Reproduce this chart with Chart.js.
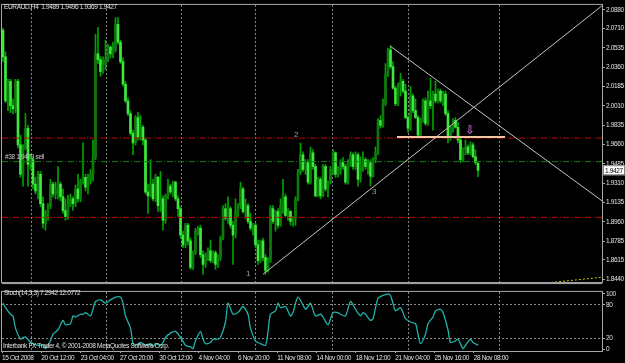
<!doctype html>
<html>
<head>
<meta charset="utf-8">
<title>EURAUD,H4</title>
<script src="https://cdn.jsdelivr.net/npm/chart.js@4.4.0/dist/chart.umd.min.js"></script>
<style>
  body { margin:0; background:#000; width:625px; height:363px; overflow:hidden; position:relative; }
  canvas { position:absolute; left:0; }
  #main { top:0; width:625px; height:287px; }
  #stoch { top:287px; width:625px; height:76px; }
  .txt { position:absolute; color:#e0e0e0; font:6.5px 'Liberation Sans Narrow','Liberation Sans',Arial,sans-serif; letter-spacing:-0.35px; white-space:pre; z-index:2; line-height:1; }
</style>
</head>
<body>
<canvas id="main" width="625" height="287"></canvas>
<canvas id="stoch" width="625" height="76"></canvas>
<div class="txt" style="left:4px;top:4px">EURAUD,H4  1.9489 1.9496 1.9369 1.9427</div>
<div class="txt" style="left:5px;top:154px;color:#c8c8c8">#38 1.9479 sell</div>
<div class="txt" style="left:4px;top:290px">Stoch(14,3,3) 7.2942 12.0772</div>
<div class="txt" style="left:3px;top:343px">Interbank FX Trader 4, © 2001-2008 MetaQuotes Software Corp.</div>
<script>
// H4 bars, 15 Oct - 28 Nov 2008
var opens = [
  2.0694, 2.0454, 2.0055, 2.0232, 2.0011, 1.9984, 2.0232, 1.9656, 1.9390, 1.9629,
  1.9807, 1.9479, 1.9523, 1.9301, 1.9239, 1.9390, 1.9124, 1.8946, 1.9035, 1.9106,
  1.9301, 1.9212, 1.9257, 1.9301, 1.9186, 1.9062, 1.9008, 1.9124, 1.9168, 1.9124,
  1.9257, 1.9168, 1.9319, 1.9363, 1.9274, 1.9345, 1.9390, 1.9541, 2.0481, 2.0428,
  2.0321, 2.0383, 2.0428, 2.0543, 2.0481, 2.0516, 2.0747, 2.0587, 2.0410, 2.0206,
  2.0055, 1.9940, 1.9762, 1.9674, 1.9904, 1.9727, 1.9816, 1.9700, 1.9230, 1.9195,
  1.9301, 1.9168, 1.9363, 1.9106, 1.9168, 1.8973, 1.9195, 1.9283, 1.9230, 1.9319,
  1.9168, 1.9079, 1.8840, 1.8751, 1.8929, 1.8787, 1.8547, 1.8680, 1.8875, 1.8902,
  1.8662, 1.8574, 1.8662, 1.8698, 1.8609, 1.8680, 1.8574, 1.8636, 1.8813, 1.9079,
  1.8991, 1.9079, 1.8929, 1.8840, 1.9053, 1.9106, 1.9257, 1.9053, 1.9106, 1.8964,
  1.8902, 1.8929, 1.8751, 1.8609, 1.8787, 1.8636, 1.8520, 1.8609, 1.9079, 1.8964,
  1.9053, 1.8929, 1.9106, 1.9186, 1.9017, 1.9053, 1.8964, 1.8991, 1.9168, 1.9407,
  1.9567, 1.9434, 1.9496, 1.9319, 1.9585, 1.9461, 1.9195, 1.9345, 1.9195, 1.9461,
  1.9257, 1.9319, 1.9434, 1.9585, 1.9390, 1.9434, 1.9496, 1.9461, 1.9319, 1.9496,
  1.9567, 1.9461, 1.9567, 1.9345, 1.9479, 1.9523, 1.9461, 1.9496, 1.9372, 1.9523,
  1.9585, 1.9878, 1.9833, 2.0028, 2.0294, 2.0516, 2.0365, 2.0170, 2.0028, 2.0188,
  2.0232, 2.0144, 1.9904, 1.9807, 2.0099, 1.9966, 1.9904, 1.9745, 1.9878, 2.0055,
  1.9851, 2.0055, 2.0011, 2.0117, 2.0055, 2.0144, 2.0055, 2.0117, 1.9940, 1.9727,
  1.9816, 1.9878, 1.9816, 1.9700, 1.9523, 1.9612, 1.9638, 1.9585, 1.9656, 1.9549,
  1.9489
];
var highs = [
  2.0711, 2.0499, 2.0250, 2.0250, 2.0073, 2.0250, 2.0250, 1.9745, 1.9656, 1.9940,
  1.9833, 1.9567, 1.9541, 1.9363, 1.9416, 1.9416, 1.9186, 1.9062, 1.9124, 1.9345,
  1.9319, 1.9319, 1.9461, 1.9319, 1.9257, 1.9168, 1.9203, 1.9212, 1.9186, 1.9292,
  1.9390, 1.9345, 1.9674, 1.9390, 1.9390, 1.9434, 1.9700, 2.0658, 2.0720, 2.0454,
  2.0454, 2.0605, 2.0569, 2.0552, 2.0587, 2.0809, 2.0809, 2.0605, 2.0445, 2.0232,
  2.0082, 1.9966, 1.9789, 1.9922, 1.9949, 1.9922, 1.9833, 1.9718, 1.9301, 1.9523,
  1.9345, 1.9390, 1.9372, 1.9416, 1.9195, 1.9212, 1.9345, 1.9301, 1.9328, 1.9328,
  1.9195, 1.9097, 1.8875, 1.8946, 1.8946, 1.8813, 1.8698, 1.8902, 1.8920, 1.8929,
  1.8698, 1.8680, 1.8725, 1.8795, 1.8698, 1.8698, 1.8662, 1.8831, 1.9106, 1.9124,
  1.9186, 1.9097, 1.8964, 1.9168, 1.9124, 1.9319, 1.9274, 1.9168, 1.9124, 1.9035,
  1.8946, 1.8946, 1.8795, 1.8795, 1.8813, 1.8662, 1.8636, 1.9106, 1.9106, 1.9062,
  1.9079, 1.9168, 1.9345, 1.9212, 1.9079, 1.9062, 1.9008, 1.9186, 1.9434, 1.9674,
  1.9594, 1.9523, 1.9523, 1.9638, 1.9612, 1.9479, 1.9363, 1.9363, 1.9479, 1.9479,
  1.9328, 1.9461, 1.9612, 1.9594, 1.9461, 1.9523, 1.9541, 1.9479, 1.9523, 1.9594,
  1.9585, 1.9594, 1.9585, 1.9549, 1.9594, 1.9541, 1.9523, 1.9523, 1.9541, 1.9638,
  1.9895, 1.9922, 2.0073, 2.0392, 2.0534, 2.0552, 2.0410, 2.0188, 2.0215, 2.0303,
  2.0250, 2.0206, 1.9922, 2.0188, 2.0117, 2.0073, 1.9922, 1.9895, 2.0073, 2.0082,
  2.0144, 2.0259, 2.0144, 2.0232, 2.0161, 2.0161, 2.0144, 2.0144, 1.9966, 1.9833,
  1.9895, 1.9904, 1.9860, 1.9718, 1.9629, 1.9700, 1.9656, 1.9683, 1.9674, 1.9612,
  1.9496
];
var lows = [
  2.0410, 2.0037, 1.9966, 1.9949, 1.9940, 1.9949, 1.9629, 1.9363, 1.9283, 1.9612,
  1.9283, 1.9434, 1.9257, 1.9212, 1.9168, 1.9097, 1.8902, 1.8884, 1.8973, 1.9079,
  1.9186, 1.9168, 1.9168, 1.9150, 1.9035, 1.8973, 1.8982, 1.9097, 1.9062, 1.9097,
  1.9141, 1.9141, 1.9301, 1.9239, 1.9212, 1.9301, 1.9328, 1.9523, 2.0392, 2.0277,
  2.0303, 2.0339, 2.0410, 2.0445, 2.0445, 2.0499, 2.0569, 2.0392, 2.0188, 2.0037,
  1.9922, 1.9745, 1.9567, 1.9656, 1.9700, 1.9700, 1.9656, 1.9212, 1.9035, 1.9186,
  1.9150, 1.9141, 1.9053, 1.9053, 1.8884, 1.8946, 1.9168, 1.9212, 1.9186, 1.9150,
  1.9008, 1.8813, 1.8725, 1.8725, 1.8751, 1.8529, 1.8529, 1.8662, 1.8840, 1.8636,
  1.8485, 1.8547, 1.8609, 1.8591, 1.8591, 1.8529, 1.8547, 1.8609, 1.8795, 1.8973,
  1.8946, 1.8902, 1.8574, 1.8813, 1.9008, 1.9079, 1.9035, 1.8991, 1.8946, 1.8884,
  1.8840, 1.8725, 1.8574, 1.8591, 1.8609, 1.8485, 1.8503, 1.8591, 1.8946, 1.8875,
  1.8902, 1.8920, 1.9035, 1.9008, 1.8973, 1.8929, 1.8920, 1.8929, 1.9150, 1.9390,
  1.9416, 1.9390, 1.9301, 1.9301, 1.9434, 1.9186, 1.9186, 1.9168, 1.9186, 1.9239,
  1.9186, 1.9301, 1.9390, 1.9363, 1.9363, 1.9390, 1.9434, 1.9301, 1.9301, 1.9461,
  1.9434, 1.9434, 1.9283, 1.9319, 1.9416, 1.9434, 1.9390, 1.9283, 1.9363, 1.9496,
  1.9567, 1.9807, 1.9816, 2.0011, 2.0277, 2.0348, 2.0161, 2.0011, 2.0011, 2.0099,
  2.0126, 1.9895, 1.9771, 1.9789, 1.9949, 1.9895, 1.9718, 1.9727, 1.9860, 1.9833,
  1.9833, 1.9984, 1.9789, 2.0037, 2.0037, 2.0037, 2.0011, 1.9922, 1.9674, 1.9700,
  1.9771, 1.9807, 1.9674, 1.9496, 1.9505, 1.9567, 1.9567, 1.9567, 1.9541, 1.9479,
  1.9369
];
var closes = [
  2.0454, 2.0055, 2.0232, 2.0011, 1.9984, 2.0232, 1.9656, 1.9390, 1.9629, 1.9807,
  1.9479, 1.9523, 1.9301, 1.9239, 1.9390, 1.9124, 1.8946, 1.9035, 1.9106, 1.9301,
  1.9212, 1.9257, 1.9301, 1.9186, 1.9062, 1.9008, 1.9124, 1.9168, 1.9124, 1.9257,
  1.9168, 1.9319, 1.9363, 1.9274, 1.9345, 1.9390, 1.9541, 2.0481, 2.0428, 2.0321,
  2.0383, 2.0428, 2.0543, 2.0481, 2.0516, 2.0747, 2.0587, 2.0410, 2.0206, 2.0055,
  1.9940, 1.9762, 1.9674, 1.9904, 1.9727, 1.9816, 1.9700, 1.9230, 1.9195, 1.9301,
  1.9168, 1.9363, 1.9106, 1.9168, 1.8973, 1.9195, 1.9283, 1.9230, 1.9319, 1.9168,
  1.9079, 1.8840, 1.8751, 1.8929, 1.8787, 1.8547, 1.8680, 1.8875, 1.8902, 1.8662,
  1.8574, 1.8662, 1.8698, 1.8609, 1.8680, 1.8574, 1.8636, 1.8813, 1.9079, 1.8991,
  1.9079, 1.8929, 1.8840, 1.9053, 1.9106, 1.9257, 1.9053, 1.9106, 1.8964, 1.8902,
  1.8929, 1.8751, 1.8609, 1.8787, 1.8636, 1.8520, 1.8609, 1.9079, 1.8964, 1.9053,
  1.8929, 1.9106, 1.9186, 1.9017, 1.9053, 1.8964, 1.8991, 1.9168, 1.9407, 1.9567,
  1.9434, 1.9496, 1.9319, 1.9585, 1.9461, 1.9195, 1.9345, 1.9195, 1.9461, 1.9257,
  1.9319, 1.9434, 1.9585, 1.9390, 1.9434, 1.9496, 1.9461, 1.9319, 1.9496, 1.9567,
  1.9461, 1.9567, 1.9345, 1.9479, 1.9523, 1.9461, 1.9496, 1.9372, 1.9523, 1.9585,
  1.9878, 1.9833, 2.0028, 2.0294, 2.0516, 2.0365, 2.0170, 2.0028, 2.0188, 2.0232,
  2.0144, 1.9904, 1.9807, 2.0099, 1.9966, 1.9904, 1.9745, 1.9878, 2.0055, 1.9851,
  2.0055, 2.0011, 2.0117, 2.0055, 2.0144, 2.0055, 2.0117, 1.9940, 1.9727, 1.9816,
  1.9878, 1.9816, 1.9700, 1.9523, 1.9612, 1.9638, 1.9585, 1.9656, 1.9549, 1.9496,
  1.9427
];

// stochastic %K, sampled by bar number
var stochBar = [0, 1, 3, 4, 5, 7, 8, 9, 11, 12, 14, 16, 17, 19, 20, 22, 24, 25, 27, 28,
  29, 31, 32, 33, 35, 36, 37, 39, 40, 41, 43, 45, 47, 48, 49, 51, 52, 53, 55, 57,
  59, 60, 61, 63, 64, 65, 67, 69, 71, 73, 75, 76, 77, 79, 80, 81, 83, 84, 86, 87,
  89, 90, 92, 94, 96, 98, 99, 101, 103, 105, 106, 107, 109, 110, 111, 113, 115, 116, 118, 121,
  122, 123, 125, 127, 128, 130, 132, 134, 135, 137, 139, 141, 143, 144, 145, 147, 148, 150, 152, 154,
  155, 156, 157, 159, 160, 161, 163, 165, 166, 167, 169, 170, 172, 173, 175, 176, 178, 179, 181, 182,
  184, 185, 187, 188, 190];
var stochK = [83, 75, 63, 60, 38, 18, 21, 22, 12, 10, 7, 7, 1, 15, 27, 35, 52, 44, 46, 60,
  58, 63, 63, 66, 60, 72, 86, 89, 86, 83, 89, 94, 94, 83, 60, 38, 10, 7, 12, 7,
  10, 4, 10, 7, 12, 21, 29, 32, 21, 7, 4, 1, 15, 32, 18, 10, 12, 18, 18, 21,
  49, 83, 63, 66, 77, 63, 38, 15, 10, 7, 32, 63, 69, 83, 75, 77, 60, 66, 94, 72,
  77, 83, 60, 63, 58, 44, 66, 66, 63, 60, 86, 72, 60, 66, 63, 52, 55, 92, 97, 100,
  97, 83, 69, 75, 66, 55, 49, 46, 27, 10, 27, 46, 58, 69, 72, 66, 35, 12, 15, 18,
  1, 7, 18, 12, 7.3];

var priceTicks = [2.0880, 2.0710, 2.0535, 2.0360, 2.0185, 2.0010, 1.9835, 1.9660,
  1.9485, 1.9310, 1.9135, 1.8960, 1.8785, 1.8615, 1.8440];
var stochTicks = [0, 20, 80, 100];
var gridBars = [11.2, 41.2, 71.2, 100.8, 131.6, 162, 198.4];
var timeLabels = ['15 Oct 2008', '20 Oct 12:00', '23 Oct 04:00', '27 Oct 20:00', '30 Oct 12:00',
  '4 Nov 04:00', '6 Nov 20:00', '11 Nov 08:00', '14 Nov 00:00', '18 Nov 12:00',
  '21 Nov 04:00', '25 Nov 16:00', '28 Nov 08:00'];
var timeBars = [-0.4, 15.3, 31.1, 46.8, 62.5, 78.2, 94.0, 109.7, 125.4, 141.1, 156.9, 172.6, 188.3];

// order levels: stop/target (red) and entry (green)
var redLevels = [1.9718, 1.9000];
var greenLevel = 1.9505;
// drawn objects [bar0, price0, bar1, price1]
var trendUp = [104, 1.8485, 239.6, 2.0916];
var trendDown = [154.8, 2.0552, 239.6, 1.9150];
var neckline = [157.6, 1.9727, 200.8, 1.9727];
var yellowLine = [220.8, 1.8414, 239.6, 1.8458];
var waveLabels = ['1', '2', '3'];
var waveBars = [98, 117.2, 148.4];
var wavePrices = [1.8485, 1.9745, 1.9230];
var arrowBar = 186.8, arrowPrice = 1.9780;

var FONT = "'Liberation Sans Narrow', 'Liberation Sans', Arial, sans-serif";
Chart.defaults.font.family = FONT;
Chart.defaults.font.size = 6.5;
Chart.defaults.color = '#e0e0e0';

var xMin = -0.4, xMax = 239.6;

function seg(p, color, dash, width, order) {
  return {
    type: 'line',
    data: [{x: p[0], y: p[1]}, {x: p[2], y: p[3]}],
    borderColor: color, borderDash: dash || [], borderWidth: width || 1,
    pointRadius: 0, order: order
  };
}

var wicks = [], bodies = [];
for (var i = 0; i < opens.length; i++) {
  wicks.push({x: i, y: [lows[i], highs[i]]});
  bodies.push({x: i, y: [opens[i], closes[i]]});
}

// tighter text, like the small terminal font
var tight = {
  id: 'tight',
  beforeDraw: function(chart) { chart.ctx.letterSpacing = '-0.35px'; }
};

var overlay = {
  id: 'overlay',
  afterDatasetsDraw: function(chart) {
    var ctx = chart.ctx, a = chart.chartArea, x = chart.scales.x, y = chart.scales.y;
    ctx.save();
    ctx.strokeStyle = '#a8a8a8';
    ctx.lineWidth = 1;
    ctx.strokeRect(a.left - 0.5, a.top - 0.5, a.right - a.left + 1, a.bottom - a.top + 1);
    ctx.fillStyle = '#a0a0a0';
    ctx.fillRect(a.left, a.bottom, a.right - a.left, 2);

    ctx.font = '8px ' + FONT;
    ctx.fillStyle = '#a0a0a0';
    ctx.textAlign = 'center';
    ctx.textBaseline = 'middle';
    for (var k = 0; k < waveLabels.length; k++) {
      ctx.fillText(waveLabels[k], x.getPixelForValue(waveBars[k]), y.getPixelForValue(wavePrices[k]));
    }
    ctx.font = 'bold 12px "DejaVu Sans", sans-serif';
    ctx.fillStyle = '#c060c8';
    ctx.fillText('\u21E9', x.getPixelForValue(arrowBar), y.getPixelForValue(arrowPrice));

    // last price marker on the axis
    var last = closes[closes.length - 1];
    var py = y.getPixelForValue(last);
    ctx.fillStyle = '#ffffff';
    ctx.fillRect(a.right + 1, py - 5, 22, 10);
    ctx.strokeStyle = '#808080';
    ctx.strokeRect(a.right + 1.5, py - 4.5, 21, 9);
    ctx.fillStyle = '#000000';
    ctx.font = '6.5px ' + FONT;
    ctx.textAlign = 'left';
    ctx.fillText(last.toFixed(4), a.right + 3, py + 0.5);
    ctx.restore();
  }
};

new Chart(document.getElementById('main'), {
  type: 'bar',
  data: {
    datasets: [
      {
        data: wicks, barThickness: 1, grouped: false, order: 4,
        backgroundColor: '#00a400'
      },
      {
        data: bodies, barThickness: 2, grouped: false, order: 3, minBarLength: 1,
        backgroundColor: function(c) {
          var i = c.dataIndex;
          return closes[i] >= opens[i] ? '#0e7a0e' : '#3ee83e';
        }
      },
      seg([xMin, redLevels[0], xMax, redLevels[0]], '#c00000', [6, 2, 1, 2], 1, 2),
      seg([xMin, redLevels[1], xMax, redLevels[1]], '#c00000', [6, 2, 1, 2], 1, 2),
      seg([xMin, greenLevel, xMax, greenLevel], '#10800f', [6, 2, 1, 2], 1, 2),
      seg(trendUp, '#c4c4c4', [], 1, 1),
      seg(trendDown, '#c4c4c4', [], 1, 1),
      seg(neckline, '#f2c6a4', [], 2, 0),
      seg(yellowLine, '#c8c800', [2, 2], 1, 1)
    ]
  },
  options: {
    responsive: false,
    animation: false,
    layout: {padding: {left: 2, top: 2, right: 0, bottom: 2}},
    plugins: {legend: {display: false}, tooltip: {enabled: false}},
    scales: {
      x: {
        type: 'linear', min: xMin, max: xMax, offset: false,
        grid: {offset: false, color: '#8c8c8c', drawTicks: false},
        border: {display: false, dash: [2, 2]},
        ticks: {display: false},
        afterBuildTicks: function(s) { s.ticks = gridBars.map(function(v) { return {value: v}; }); },
        afterFit: function(s) { s.height = 0; }
      },
      y: {
        position: 'right', min: 1.8414, max: 2.0924,
        grid: {drawOnChartArea: false, tickLength: 3, color: '#a8a8a8'},
        border: {display: true, color: '#a8a8a8'},
        ticks: {
          autoSkip: false, padding: 1, color: '#e0e0e0',
          callback: function(v) { return v.toFixed(4); }
        },
        afterBuildTicks: function(s) { s.ticks = priceTicks.map(function(v) { return {value: v}; }); },
        afterFit: function(s) { s.width = 23; }
      }
    }
  },
  plugins: [tight, overlay]
});

var frame = {
  id: 'frame',
  afterDatasetsDraw: function(chart) {
    var ctx = chart.ctx, a = chart.chartArea;
    ctx.save();
    ctx.strokeStyle = '#a8a8a8';
    ctx.lineWidth = 1;
    ctx.strokeRect(a.left - 0.5, a.top - 0.5, a.right - a.left + 1, a.bottom - a.top + 1);
    ctx.restore();
  }
};

new Chart(document.getElementById('stoch'), {
  type: 'line',
  data: {
    datasets: [{
      data: stochBar.map(function(b, i) { return {x: b, y: stochK[i]}; }),
      borderColor: '#20b2aa', borderWidth: 1.3, pointRadius: 0, tension: 0.25
    }]
  },
  options: {
    responsive: false,
    animation: false,
    layout: {padding: {left: 2, top: 1, right: 0, bottom: 0}},
    plugins: {legend: {display: false}, tooltip: {enabled: false}},
    scales: {
      x: {
        type: 'linear', min: xMin, max: xMax,
        grid: {color: '#8c8c8c', drawTicks: false},
        border: {display: false, dash: [2, 2]},
        ticks: {display: false},
        afterBuildTicks: function(s) { s.ticks = gridBars.map(function(v) { return {value: v}; }); },
        afterFit: function(s) { s.height = 0; }
      },
      xt: {
        type: 'linear', position: 'bottom', min: xMin, max: xMax,
        grid: {drawOnChartArea: false, tickLength: 2, color: '#a8a8a8'},
        border: {display: false},
        ticks: {
          autoSkip: false, maxRotation: 0, align: 'start', padding: 1, color: '#e0e0e0',
          callback: function(v, i) { return timeLabels[i]; }
        },
        afterBuildTicks: function(s) { s.ticks = timeBars.map(function(v) { return {value: v}; }); },
        afterFit: function(s) { s.height = 12; }
      },
      y: {
        position: 'right', min: -3.4, max: 103.4,
        grid: {
          tickLength: 3, tickColor: '#a8a8a8',
          color: function(c) { return (c.tick && (c.tick.value === 20 || c.tick.value === 80)) ? '#8c8c8c' : 'rgba(0,0,0,0)'; }
        },
        border: {display: true, color: '#a8a8a8', dash: [2, 2]},
        ticks: {autoSkip: false, padding: 1, color: '#e0e0e0'},
        afterBuildTicks: function(s) { s.ticks = stochTicks.map(function(v) { return {value: v}; }); },
        afterFit: function(s) { s.width = 23; }
      }
    }
  },
  plugins: [tight, frame]
});
</script>
</body>
</html>
